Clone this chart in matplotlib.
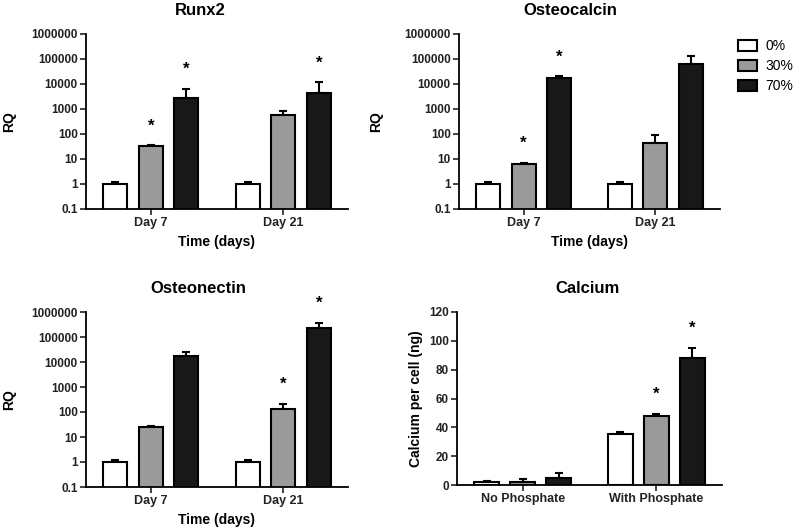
import numpy as np
import matplotlib
matplotlib.use('Agg')
import matplotlib.pyplot as plt

plt.rcParams['font.family'] = ['Liberation Sans', 'DejaVu Sans']

series = ['0%', '30%', '70%']
colors = ['white', '#9a9a9a', '#181818']

days = ['Day 7', 'Day 21']
phosphate = ['No Phosphate', 'With Phosphate']

# mean values, one list per series (0%, 30%, 70%), one entry per group
runx2 = [[1, 1], [33, 575], [2700, 4250]]
runx2_top = [[1.15, 1.15], [35, 830], [6300, 11700]]
runx2_star = [[False, False], [True, False], [True, True]]

osteocalcin = [[1, 1], [6.1, 42], [17400, 63000]]
osteocalcin_top = [[1.15, 1.15], [6.8, 91], [20000, 132000]]
osteocalcin_star = [[False, False], [True, False], [True, False]]

osteonectin = [[1, 1], [25, 135], [17000, 230000]]
osteonectin_top = [[1.15, 1.15], [28, 210], [24000, 360000]]
osteonectin_star = [[False, False], [False, True], [False, True]]

calcium = [[2.2, 35.5], [2.2, 48], [5, 88]]
calcium_top = [[2.8, 36.5], [4, 49.5], [8, 95]]
calcium_star = [[False, False], [False, True], [False, True]]

log_ticks = [0.1, 1, 10, 100, 1000, 10000, 100000, 1000000]
log_labels = ['0.1', '1', '10', '100', '1000', '10000', '100000', '1000000']

fig = plt.figure(figsize=(7.96, 5.28), dpi=100)

W, H = 796, 528
def px_axes(l, t, r, b):
    return fig.add_axes([l / W, 1 - b / H, (r - l) / W, (b - t) / H])

off = 0.269
width = 0.182

def panel(ax, title, vals, tops, stars, cats, ylabel, log, star_pad, title_x):
    x = np.arange(len(cats))
    for i in range(3):
        xs = x + (i - 1) * off
        ax.bar(xs, vals[i], width, color=colors[i], edgecolor='black',
               linewidth=1.5, zorder=2, label=series[i])
        up = np.array(tops[i]) - np.array(vals[i])
        ax.errorbar(xs, vals[i], yerr=[np.zeros(len(up)), up], fmt='none',
                    ecolor='black', elinewidth=1.5, capsize=3, capthick=1.5, zorder=1)
        for j in range(len(cats)):
            if stars[i][j]:
                ax.annotate('*', (xs[j], tops[i][j]), xytext=(0, star_pad),
                            textcoords='offset points', ha='center', va='center',
                            fontsize=12, fontweight='bold')
    ax.set_xlim(-0.49, 1.49)
    ax.set_xticks(x)
    ax.set_xticklabels(cats, fontsize=9, fontweight='bold')
    if log:
        ax.set_yscale('log')
        ax.set_ylim(0.1, 1000000)
        ax.set_yticks(log_ticks)
        ax.set_yticklabels(log_labels)
        ax.minorticks_off()
    else:
        ax.set_ylim(0, 120)
        ax.set_yticks(np.arange(0, 121, 20))
    for lab in ax.get_yticklabels():
        lab.set_fontsize(8.5)
        lab.set_fontweight('bold')
    ax.spines['top'].set_visible(False)
    ax.spines['right'].set_visible(False)
    ax.spines['left'].set_linewidth(1.3)
    ax.spines['bottom'].set_linewidth(1.3)
    ax.tick_params(direction='out', length=4, width=1.2, pad=2, colors='#222222')
    ax.set_title(title, fontsize=12, fontweight='bold', pad=14, x=title_x)
    ax.set_ylabel(ylabel, fontsize=10, fontweight='bold')

ax1 = px_axes(86, 34, 348, 209)
panel(ax1, 'Runx2', runx2, runx2_top, runx2_star, days, 'RQ', True, 14, 0.435)
ax1.set_xlabel('Time (days)', fontsize=10, fontweight='bold')
ax1.yaxis.set_label_coords(-0.267, 0.5)

ax2 = px_axes(459, 34, 720, 209)
panel(ax2, 'Osteocalcin', osteocalcin, osteocalcin_top, osteocalcin_star, days, 'RQ', True, 14, 0.425)
ax2.set_xlabel('Time (days)', fontsize=10, fontweight='bold')
ax2.yaxis.set_label_coords(-0.291, 0.5)

ax3 = px_axes(86, 312, 348, 487)
panel(ax3, 'Osteonectin', osteonectin, osteonectin_top, osteonectin_star, days, 'RQ', True, 14, 0.427)
ax3.set_xlabel('Time (days)', fontsize=10, fontweight='bold')
ax3.yaxis.set_label_coords(-0.267, 0.5)

ax4 = px_axes(457, 312, 722, 485)
panel(ax4, 'Calcium', calcium, calcium_top, calcium_star, phosphate,
      'Calcium per cell (ng)', False, 14, 0.494)

ax2.legend(loc='upper left', bbox_to_anchor=(1.02, 1.04), frameon=False,
           fontsize=10, handlelength=1.4, handleheight=0.85, labelspacing=0.42,
           handletextpad=0.6)

fig.savefig('out.png', dpi=100, facecolor='white')
